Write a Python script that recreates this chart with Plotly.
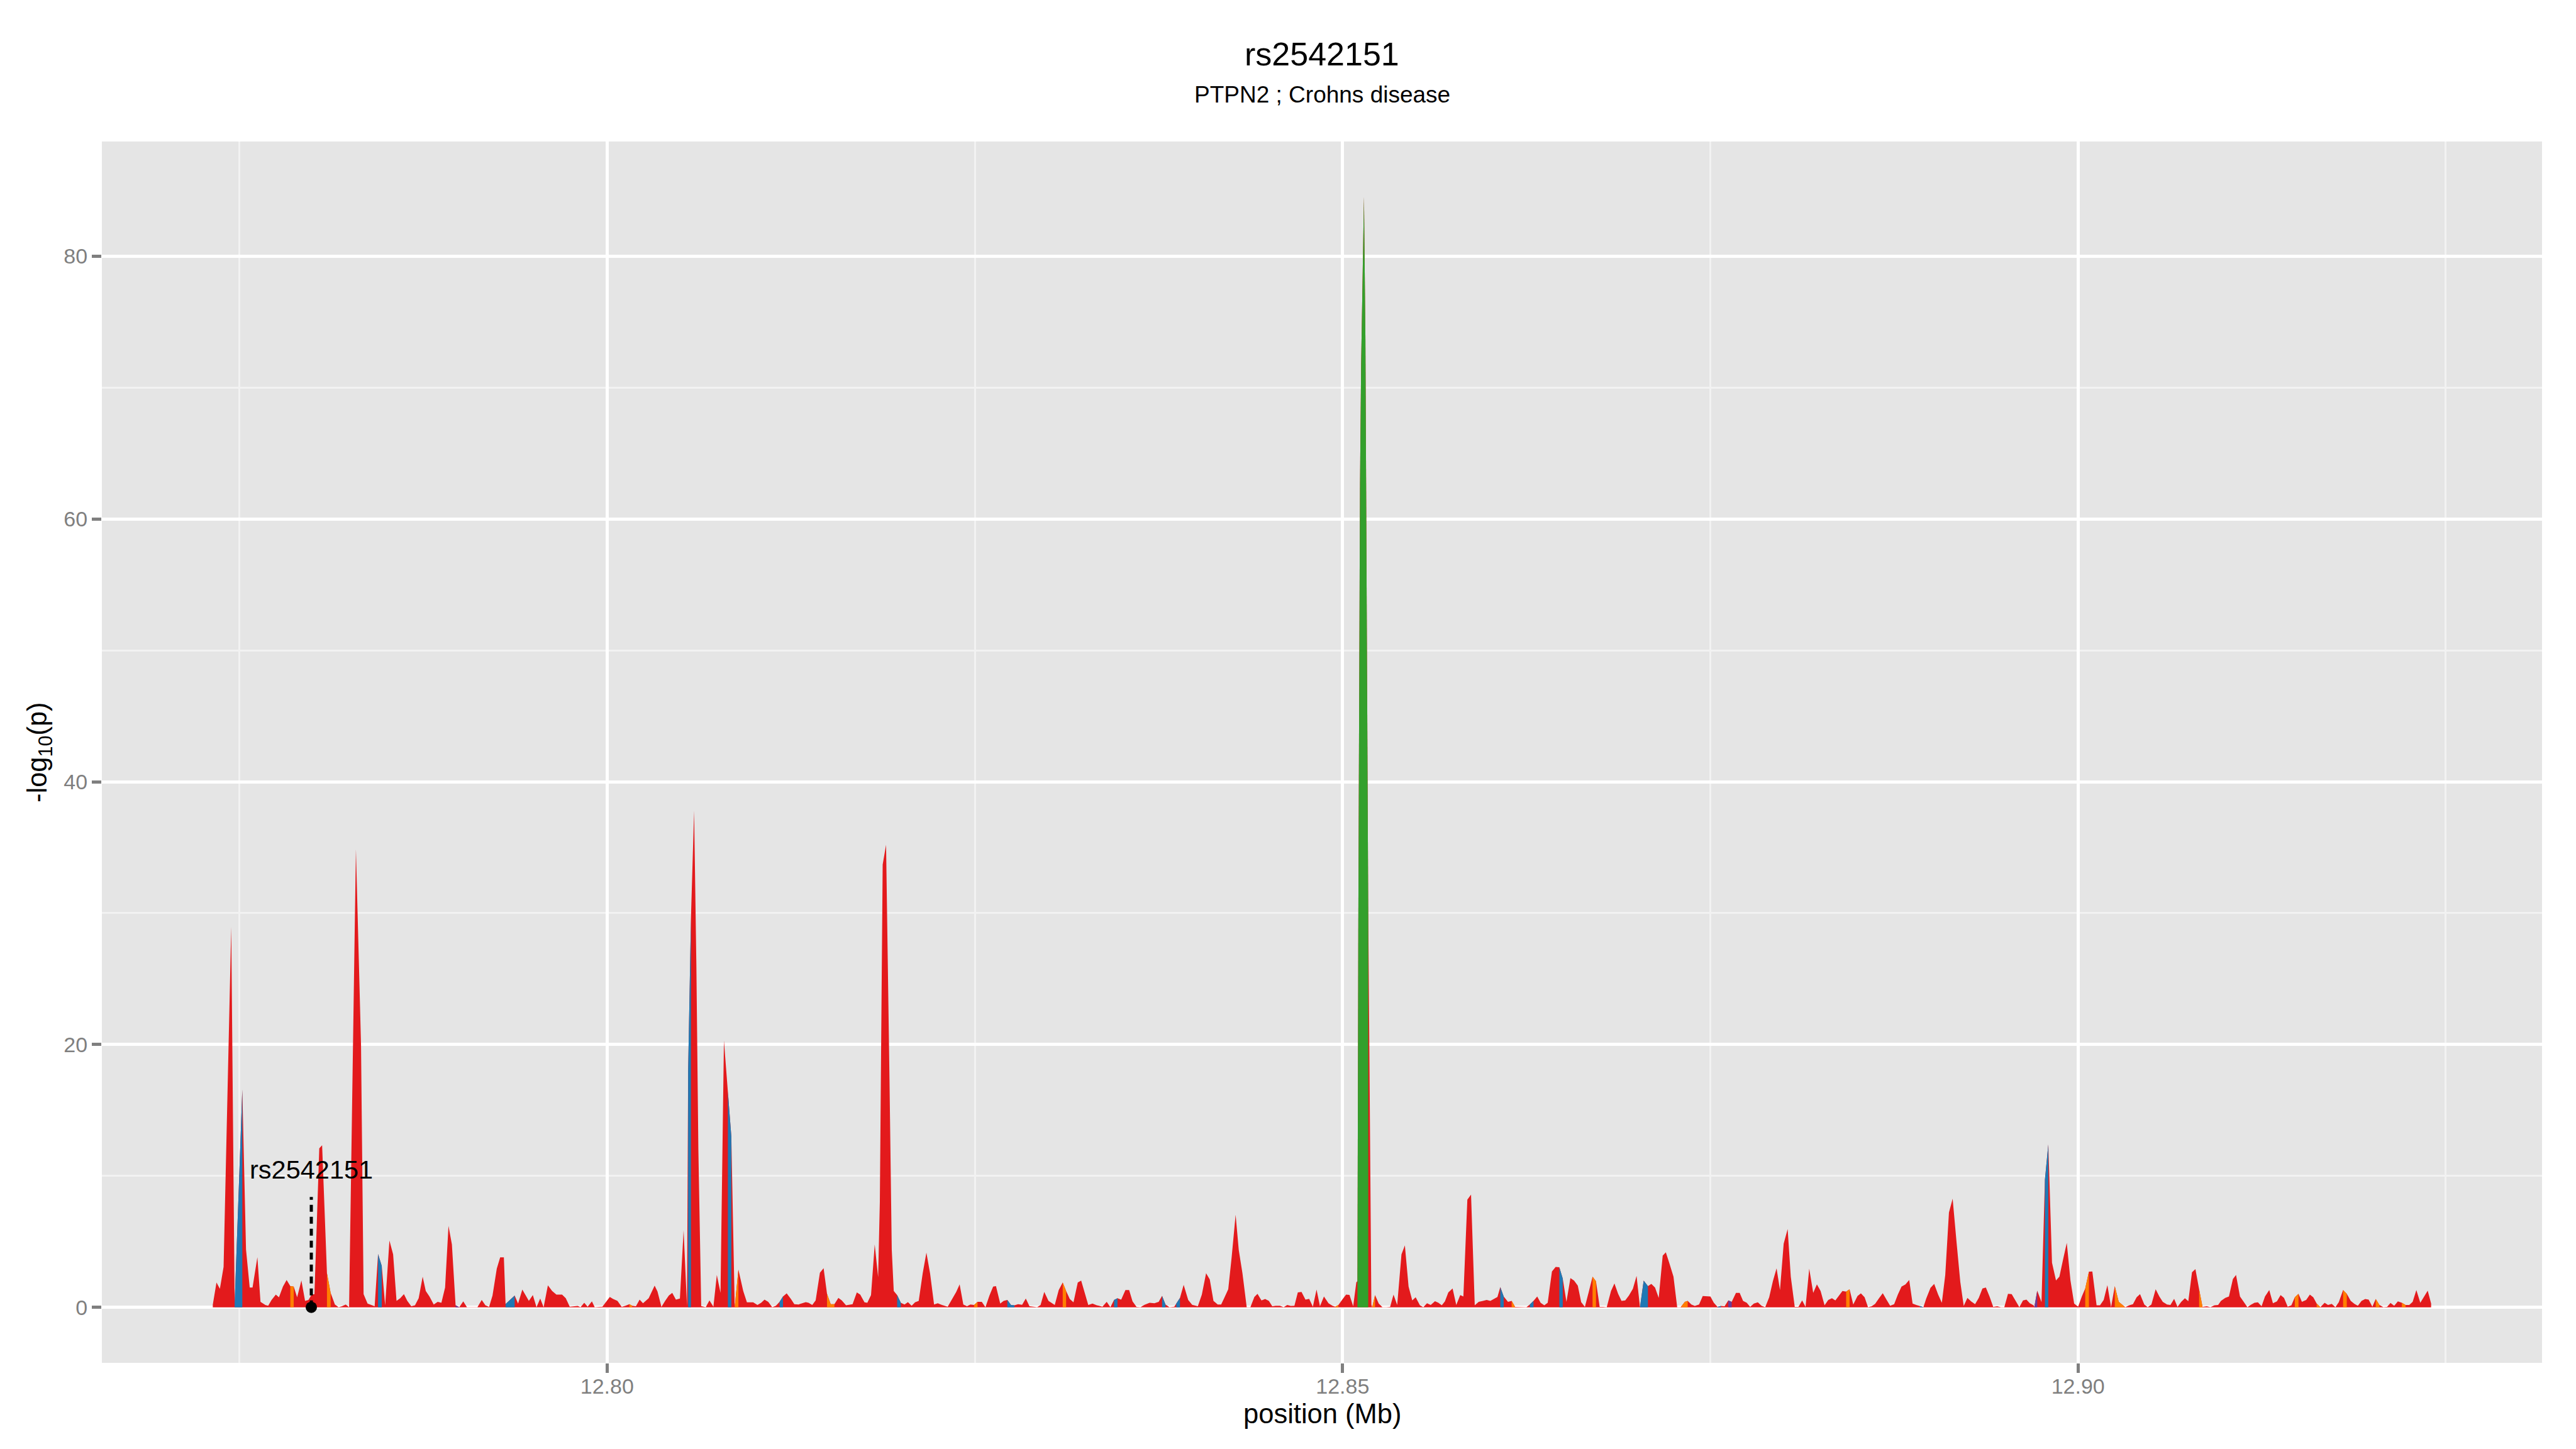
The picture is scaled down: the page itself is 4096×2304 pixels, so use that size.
import plotly.graph_objects as go

# ---------------- data (positions in bp, -log10 p) ----------------
pos_a = [12773193, 12773444, 12773675, 12773926, 12774447, 12774679, 12775200, 12775451, 12775702, 12775895,
         12776224, 12776436, 12776764, 12776957, 12777189, 12777478, 12777691, 12777961, 12778212, 12778463,
         12778695, 12778926, 12779216, 12779467, 12779699, 12779911, 12780104, 12780432, 12780625, 12780954,
         12781205, 12781494, 12781745, 12781977, 12782228, 12782459, 12782923, 12783270, 12783444, 12783714,
         12784197, 12784428, 12784680, 12784911, 12785201, 12785452, 12785684, 12785935, 12786186, 12786417,
         12786687, 12786938, 12787189, 12787460, 12787672, 12787923, 12788213, 12788483, 12788734, 12788985,
         12789217, 12789448, 12789699, 12789950, 12790220, 12790471, 12790858, 12791186, 12791475, 12791726,
         12791977, 12792209, 12792499, 12792730, 12792981, 12793097, 12793715, 12793947, 12794236, 12794487,
         12794680, 12794950, 12795201, 12795452, 12795684, 12795974, 12796263, 12796553, 12796939, 12797190,
         12797460, 12798001, 12798194, 12798445, 12798677, 12798966, 12799159, 12799449, 12799680, 12800182,
         12800414, 12800704, 12800993, 12801244, 12801514, 12801708, 12801959, 12802210, 12802441, 12802827]
val_a = [0.2, 1.89, 1.41, 3.07, 28.95, 0.3, 16.57, 4.4, 1.51, 1.51,
         3.82, 0.42, 0.18, 0.12, 0.56, 0.97, 0.76, 1.58, 2.08, 1.62,
         1.58, 0.76, 2.05, 0.49, 0.56, 0.97, 1.0, 12.1, 12.34, 2.6,
         1.1, 0.22, 0.01, 0.08, 0.22, 0.01, 34.86, 20.0, 1.0, 0.29,
         0.08, 4.05, 3.14, 0.15, 5.09, 4.03, 0.49, 0.69, 1.01, 0.49,
         0.08, 0.15, 0.69, 2.33, 1.24, 0.83, 0.22, 0.42, 0.35, 1.51,
         6.2, 4.78, 0.15, 0.01, 0.45, 0.01, 0.01, 0.01, 0.56, 0.15,
         0.04, 0.9, 2.94, 3.8, 3.8, 0.25, 0.9, 0.29, 1.35, 0.83,
         0.49, 0.93, 0.01, 0.67, 0.01, 1.67, 1.24, 0.97, 0.97, 0.69,
         0.05, 0.11, 0.01, 0.35, 0.05, 0.45, 0.01, 0.04, 0.05, 0.79,
         0.63, 0.49, 0.04, 0.12, 0.24, 0.12, 0.08, 0.59, 0.31, 0.69]

pos_b = [12803231, 12803424, 12803694, 12803945, 12804196, 12804428, 12804679, 12804949, 12805200, 12805432,
         12805509, 12805702, 12805914, 12806069, 12806204, 12806397, 12806706, 12806957, 12807227, 12807459,
         12807710, 12807942, 12808212, 12808444, 12808675, 12808926, 12809254, 12809505, 12809930, 12810220,
         12810471, 12810702, 12810953, 12811224, 12811475, 12811726, 12811957, 12812208, 12812498, 12812729,
         12813019, 12813212, 12813502, 12813695, 12813946, 12814177, 12814467, 12814718, 12814950, 12815201,
         12815452, 12815722, 12815954, 12816243, 12816494, 12816687, 12816977, 12817208, 12817498, 12817691,
         12817942, 12818193, 12818425, 12818541, 12818734, 12818965, 12819197, 12819351, 12819487, 12819718,
         12819969, 12820220, 12820452, 12820703, 12820935, 12821185, 12821456, 12821707, 12821958, 12822228,
         12822479, 12822769, 12823155, 12823444, 12823734, 12823966, 12824217, 12824468, 12824699, 12824950,
         12825182, 12825471, 12825722, 12825993, 12826244, 12826437, 12826726, 12826958, 12827209, 12827460,
         12827692, 12827943, 12828213, 12828464, 12828715, 12828985, 12829236, 12829468, 12829719, 12830008,
         12830201, 12830433, 12830703, 12830974, 12831205, 12831456, 12831707, 12831997, 12832229, 12832480,
         12832711, 12833001, 12833290]
val_b = [1.65, 1.21, 0.04, 0.49, 0.9, 1.1, 0.59, 0.67, 5.86, 0.08,
         18.0, 29.7, 37.8, 26.0, 12.0, 0.1, 0.01, 0.53, 0.05, 2.46,
         1.1, 20.3, 16.4, 13.0, 0.01, 2.87, 1.24, 0.38, 0.38, 0.18,
         0.35, 0.58, 0.42, 0.01, 0.12, 0.42, 0.83, 1.06, 0.63, 0.24,
         0.22, 0.29, 0.39, 0.35, 0.18, 0.53, 2.63, 2.98, 1.03, 0.24,
         0.24, 0.72, 0.53, 0.15, 0.22, 0.24, 1.13, 0.97, 0.38, 0.35,
         0.93, 4.78, 2.3, 8.0, 33.7, 35.2, 17.4, 4.4, 1.24, 0.93,
         0.35, 0.22, 0.39, 0.12, 0.38, 0.49, 2.6, 4.16, 2.57, 0.22,
         0.31, 0.18, 0.05, 0.63, 1.17, 1.74, 0.22, 0.08, 0.22, 0.18,
         0.42, 0.42, 0.01, 0.9, 1.58, 1.62, 0.29, 0.49, 0.56, 0.18,
         0.15, 0.24, 0.19, 0.67, 0.08, 0.05, 0.01, 0.18, 1.17, 0.49,
         0.35, 0.18, 1.31, 1.89, 1.24, 0.63, 0.38, 1.89, 2.03, 1.03,
         0.18, 0.29, 0.15]

pos_c = [12833443, 12833675, 12833964, 12834215, 12834466, 12834698, 12834949, 12835238, 12835489, 12835721,
         12835991, 12836262, 12836532, 12836879, 12837208, 12837497, 12837729, 12837961, 12838231, 12838559,
         12838694, 12838945, 12839196, 12839505, 12839775, 12840161, 12840432, 12840721, 12840972, 12841223,
         12841513, 12841745, 12841938, 12842227, 12842459, 12842729, 12842942, 12843193, 12843482, 12843733,
         12844003, 12844216, 12844486, 12844737, 12844988, 12845220, 12845451, 12845741, 12845992, 12846243,
         12846475, 12846726, 12846957, 12847208, 12847478, 12847729, 12847980, 12848231, 12848463, 12848733,
         12849042, 12849313, 12849505, 12849718, 12850008, 12850239, 12850470, 12850722, 12850934, 12851011,
         12851069, 12851127, 12851185, 12851262, 12851378, 12851455, 12851552, 12851610, 12851668, 12851745,
         12851822, 12851957, 12852015, 12852208, 12852459, 12852710, 12852981, 12853232, 12853463, 12853714,
         12854004, 12854236, 12854487, 12854738, 12854969, 12855259, 12855490, 12855741, 12855992, 12856282,
         12856514, 12856745, 12856958, 12857189, 12857479, 12857730, 12858000, 12858213, 12858483, 12858734,
         12858985, 12859255, 12859544, 12859796, 12860047, 12860336, 12860529, 12860722, 12860954, 12861244,
         12861495, 12861726, 12861977, 12862267, 12862499, 12862730, 12862981, 12863232, 12863464]
val_c = [0.12, 0.05, 0.42, 0.01, 0.56, 0.69, 0.59, 1.31, 1.31, 0.45,
         0.04, 0.01, 0.19, 0.35, 0.31, 0.42, 0.87, 0.22, 0.01, 0.05,
         0.29, 0.72, 1.71, 0.56, 0.19, 0.08, 0.97, 2.6, 2.12, 0.49,
         0.22, 0.22, 0.67, 1.37, 3.82, 7.05, 4.37, 2.6, 0.01, 0.01,
         0.79, 1.03, 0.53, 0.63, 0.49, 0.08, 0.12, 0.12, 0.01, 0.18,
         0.11, 0.12, 1.13, 1.17, 0.59, 0.65, 0.05, 1.35, 0.08, 0.83,
         0.31, 0.12, 0.05, 0.18, 0.63, 0.97, 0.94, 0.08, 1.9, 2.0,
         28.8, 46.6, 62.6, 71.8, 78.9, 84.5, 73.8, 58.0, 50.0, 30.0,
         19.6, 0.2, 0.01, 0.93, 0.29, 0.01, 0.01, 0.04, 0.97, 0.18,
         4.03, 4.71, 1.58, 0.53, 0.76, 0.15, 0.01, 0.31, 0.18, 0.46,
         0.35, 0.15, 0.45, 1.14, 1.44, 0.18, 0.93, 0.83, 8.2, 8.58,
         0.15, 0.42, 0.49, 0.56, 0.49, 0.69, 0.79, 1.54, 0.83, 0.42,
         0.49, 0.04, 0.04, 0.01, 0.01, 0.22, 0.49, 0.83, 0.35]

pos_d = [12863713, 12863945, 12864234, 12864485, 12864736, 12864968, 12865219, 12865489, 12865740, 12865991,
         12866223, 12866474, 12866744, 12866995, 12867227, 12867478, 12867709, 12867960, 12868250, 12868482,
         12868733, 12868964, 12869215, 12869466, 12869736, 12869987, 12870219, 12870470, 12870760, 12870991,
         12871242, 12871493, 12871764, 12871976, 12872208, 12872497, 12872748, 12872980, 12873038, 12873269,
         12873463, 12873713, 12873945, 12874235, 12874486, 12874756, 12875007, 12875239, 12875490, 12875721,
         12875972, 12876223, 12876455, 12876745, 12876996, 12877227, 12877478, 12877710, 12877961, 12878231,
         12878482, 12878733, 12879003, 12879254, 12879505, 12879737, 12879988, 12880258, 12880471, 12880740,
         12880992, 12881243, 12881475, 12881725, 12881996, 12882247, 12882498, 12882768, 12883019, 12883270,
         12883502, 12883984, 12884235, 12884467, 12884718, 12885008, 12885239, 12885490, 12885722, 12885973,
         12886204, 12886455, 12886725, 12886977, 12887228, 12887498, 12887749, 12888000, 12888270, 12888521,
         12888753, 12889004, 12889255, 12889487, 12889679, 12889969, 12890220, 12890490, 12890741, 12890973,
         12891224, 12891475, 12891745, 12891996, 12892228, 12892479, 12892730, 12893000, 12893251, 12893502,
         12893734]
val_d = [0.15, 0.35, 2.73, 3.07, 3.05, 2.19, 0.42, 2.23, 2.03, 1.65,
         0.39, 0.04, 1.21, 2.33, 1.99, 0.04, 0.04, 0.01, 1.24, 1.82,
         1.03, 0.49, 0.53, 0.9, 1.41, 2.39, 0.01, 2.03, 1.62, 1.78,
         1.51, 0.72, 3.93, 4.19, 3.39, 2.33, 0.01, 0.01, 0.08, 0.42,
         0.49, 0.22, 0.11, 0.22, 0.86, 0.83, 0.83, 0.35, 0.04, 0.11,
         0.08, 0.52, 0.42, 1.1, 1.1, 0.49, 0.35, 0.04, 0.29, 0.38,
         0.12, 0.01, 0.76, 1.99, 2.97, 1.31, 4.84, 5.96, 2.33, 0.04,
         0.04, 0.53, 0.04, 2.94, 1.1, 1.74, 1.24, 0.15, 0.56, 0.69,
         0.53, 1.24, 1.2, 1.37, 0.22, 0.86, 1.06, 0.76, 0.01, 0.08,
         0.26, 0.67, 1.07, 0.59, 0.12, 0.24, 0.97, 1.58, 1.74, 2.08,
         0.29, 0.18, 0.11, 0.01, 0.67, 1.48, 1.78, 0.97, 0.35, 2.46,
         7.22, 8.27, 4.91, 1.92, 0.11, 0.72, 0.45, 0.24, 0.72, 1.44,
         1.51]

pos_e = [12893983, 12894234, 12894504, 12894755, 12894987, 12895238, 12895489, 12895759, 12896010, 12896261,
         12896493, 12896724, 12896975, 12897033, 12897226, 12897516, 12897748, 12897979, 12898230, 12898501,
         12898732, 12899003, 12899234, 12899485, 12899736, 12900006, 12900257, 12900489, 12900740, 12900972,
         12901261, 12901493, 12901744, 12901995, 12902246, 12902497, 12902767, 12903211, 12903482, 12903733,
         12903983, 12904215, 12904505, 12904736, 12904987, 12905277, 12905528, 12905760, 12906049, 12906281,
         12906532, 12906764, 12907015, 12907266, 12907497, 12907748, 12907980, 12908231, 12908463, 12908752,
         12909003, 12909273, 12909524, 12909717, 12910007, 12910258, 12910528, 12910741, 12911010, 12911262,
         12911513, 12911745, 12911995, 12912227, 12912478, 12912710, 12912999, 12913250, 12913521, 12913772,
         12914003, 12914254, 12914505, 12914737, 12914988, 12915220, 12915509, 12915760, 12915992, 12916224,
         12916474, 12916764, 12916995, 12917247, 12917498, 12917729, 12918019, 12918270, 12918540, 12918791,
         12919023, 12919274, 12919525, 12919757, 12920008, 12920239, 12920490, 12920760, 12921011, 12921243,
         12921494, 12921745, 12922015, 12922266, 12922517, 12922749, 12923000, 12923270, 12923521, 12923772,
         12924004]
val_e = [0.83, 0.04, 0.08, 0.01, 0.01, 1.03, 1.01, 0.49, 0.01, 0.53,
         0.59, 0.31, 0.15, 0.05, 1.27, 0.39, 9.7, 12.4, 3.4, 2.05,
         2.33, 3.75, 4.91, 2.05, 0.29, 0.05, 0.83, 1.44, 2.71, 2.73,
         0.15, 0.15, 0.56, 1.69, 0.01, 1.62, 0.42, 0.01, 0.15, 0.24,
         0.76, 1.01, 0.22, 0.01, 0.22, 1.37, 0.83, 0.42, 0.22, 0.18,
         0.65, 0.04, 0.42, 0.69, 0.46, 2.67, 2.91, 1.37, 0.04, 0.08,
         0.01, 0.15, 0.18, 0.49, 0.72, 0.83, 2.15, 2.46, 0.83, 0.42,
         0.01, 0.19, 0.35, 0.38, 0.08, 0.83, 1.31, 0.31, 0.45, 0.93,
         0.72, 0.05, 0.15, 0.76, 1.03, 0.42, 0.56, 0.97, 0.76, 0.29,
         0.01, 0.35, 0.18, 0.26, 0.01, 0.39, 1.31, 1.03, 0.49, 0.26,
         0.12, 0.49, 0.63, 0.59, 0.05, 0.63, 0.18, 0.01, 0.04, 0.33,
         0.12, 0.45, 0.35, 0.18, 0.18, 0.42, 1.31, 0.35, 0.83, 1.27,
         0.29]

# SNPs (start of an interval) belonging to each non-default LD class
blue_snps = [12774679, 12784428, 12793097, 12805509, 12808212, 12811726, 12819718, 12827209, 12827460,
             12834466, 12837729, 12838694, 12860722, 12862730, 12864736, 12870219, 12870470, 12875490,
             12889255, 12897748]
orange_snps = [12778463, 12780954, 12801514, 12808675, 12814950, 12815201, 12824950, 12830974, 12849505,
               12852015, 12861495, 12866995, 12873038, 12873269, 12884235, 12900489, 12902497, 12902767,
               12908231, 12914737, 12916224, 12918019, 12920239, 12922015]
purple_snps = [12789699, 12876223, 12897033]
green_snps = [12851011, 12851069, 12851127, 12851185, 12851262, 12851378, 12851455, 12851552, 12851610,
              12851668]

index_snp = "rs2542151"
index_snp_pos = 12779890
index_line_top = 8.4
index_label_y = 10.5

title_text = "rs2542151"
subtitle_text = "PTPN2 ; Crohns disease"
x_title = "position (Mb)"
y_title = "-log<sub>10</sub>(p)"
x_ticks = [12.80, 12.85, 12.90]
x_ticktext = ["12.80", "12.85", "12.90"]
x_minor = [12.775, 12.825, 12.875, 12.925]
y_ticks = [0, 20, 40, 60, 80]
y_minor = [10, 30, 50, 70]

# ---------------- styling ----------------
RED = "#E31A1C"
BLUE = "#1F78B4"
ORANGE = "#FF7F00"
GREEN = "#33A02C"
PURPLE = "#6A3D9A"
FONT = "Liberation Sans, Arial, Helvetica, sans-serif"

OFF = 8  # default page body margin of the html file
W, H = 4096 - OFF, 2304 - OFF
ML, MT = 162 - OFF, 225 - OFF
PLOT_R, PLOT_B = 4042 - OFF, 2167 - OFF
MR, MB = W - PLOT_R, H - PLOT_B
PW, PH = PLOT_R - ML, PLOT_B - MT

pos = pos_a + pos_b + pos_c + pos_d + pos_e
vals = val_a + val_b + val_c + val_d + val_e
n = min(len(pos), len(vals))
pos, vals = pos[:n], vals[:n]
x = [p / 1e6 for p in pos]

fig = go.Figure()
fig.add_trace(go.Scatter(x=x, y=vals, mode="lines", line=dict(width=0, color=RED),
                         fill="tozeroy", fillcolor=RED, showlegend=False, hoverinfo="skip"))


def strips(snps):
    s = set(snps)
    xs, ys = [], []
    i = 0
    while i < n - 1:
        if pos[i] in s:
            j = i
            while j + 1 < n - 1 and pos[j + 1] in s:
                j += 1
            xs += [x[i]] + x[i:j + 2] + [x[j + 1], None]
            ys += [0] + vals[i:j + 2] + [0, None]
            i = j + 1
        else:
            i += 1
    return xs, ys


for snps, col in [(blue_snps, BLUE), (orange_snps, ORANGE), (purple_snps, PURPLE), (green_snps, GREEN)]:
    xs, ys = strips(snps)
    fig.add_trace(go.Scatter(x=xs, y=ys, mode="lines", line=dict(width=0, color=col),
                             fill="toself", fillcolor=col, showlegend=False, hoverinfo="skip"))

sx = index_snp_pos / 1e6
fig.add_trace(go.Scatter(x=[sx, sx], y=[0, index_line_top], mode="lines",
                         line=dict(color="black", width=5, dash="11px,8px"), showlegend=False))
fig.add_trace(go.Scatter(x=[sx], y=[0], mode="markers", marker=dict(color="black", size=18),
                         showlegend=False, cliponaxis=False))

span = max(x) - min(x)
xr = [min(x) - 0.05 * span, max(x) + 0.05 * span]
ymax = max(vals)
yr = [-0.05 * ymax, ymax * 1.05]

axis_common = dict(showgrid=True, gridcolor="white", gridwidth=5.1, zeroline=False, showline=False,
                   ticks="outside", ticklen=15, tickwidth=5, tickcolor="#7F7F7F", automargin=False,
                   tickfont=dict(family=FONT, size=34, color="#7F7F7F"))

fig.update_layout(
    width=W, height=H, margin=dict(l=ML, r=MR, t=MT, b=MB, autoexpand=False),
    plot_bgcolor="#E5E5E5", paper_bgcolor="white",
    xaxis=dict(range=xr, tickvals=x_ticks, ticktext=x_ticktext, ticklabelstandoff=-8,
               minor=dict(tickvals=x_minor, showgrid=True, gridcolor="#F2F2F2", gridwidth=2.6, ticks=""),
               **axis_common),
    yaxis=dict(range=yr, tickvals=y_ticks,
               minor=dict(tickvals=y_minor, showgrid=True, gridcolor="#F2F2F2", gridwidth=2.6, ticks=""),
               **axis_common),
    showlegend=False,
)


def py(p):
    return (PLOT_B - (p - OFF)) / PH


def px(p):
    return ((p - OFF) - ML) / PW


ann = [
    dict(text=title_text, x=0.5, y=py(86), font=dict(size=52)),
    dict(text=subtitle_text, x=0.5, y=py(151), font=dict(size=37)),
    dict(text=x_title, x=0.5, y=py(2248), font=dict(size=43.5)),
    dict(text=y_title, x=px(62), y=0.5, textangle=-90, font=dict(size=43.5)),
]
for a in ann:
    a.update(xref="paper", yref="paper", showarrow=False, xanchor="center", yanchor="middle")
    a["font"].update(family=FONT, color="black")
    fig.add_annotation(**a)

fig.add_annotation(text=index_snp, x=sx, y=index_label_y, xref="x", yref="y", showarrow=False,
                   xanchor="center", yanchor="middle", font=dict(family=FONT, size=41.5, color="black"))

fig.write_html("out.html")
